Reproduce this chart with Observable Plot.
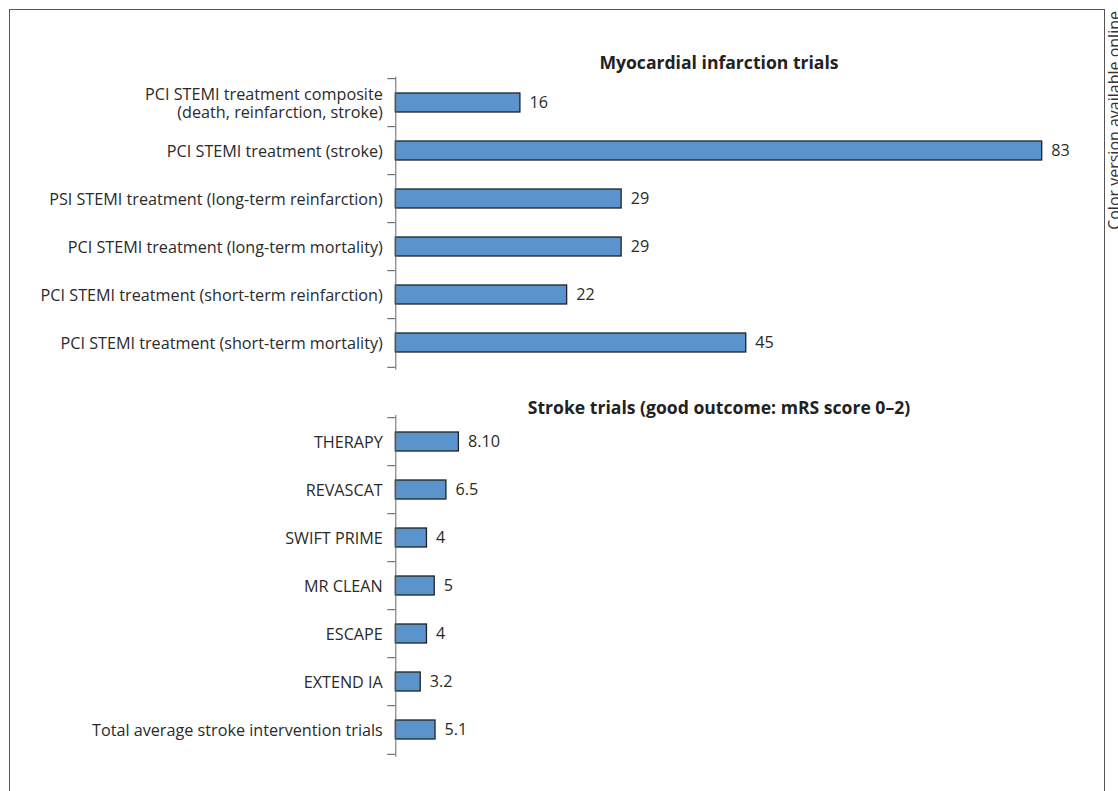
<!DOCTYPE html>
<html>
<head>
<meta charset="utf-8">
<script src="https://cdn.jsdelivr.net/npm/d3@7"></script>
<script src="https://cdn.jsdelivr.net/npm/@observablehq/plot@0.6"></script>
<style>
  body { margin: 0; background: #fff; }
  #page { position: relative; width: 1118px; height: 791px; overflow: hidden; font-family: "Open Sans", sans-serif; color: #222; }
  #border { position: absolute; left: 9px; top: 9px; width: 1096px; height: 820px; border: 1px solid #555; border-bottom: none; box-sizing: border-box; }
  .panel { position: absolute; left: 0; }
  #note { position: absolute; left: 1106px; top: 11px; font-size: 16px; line-height: 1; color: #333; white-space: nowrap;
          transform-origin: 0 0; transform: rotate(-90deg) translateX(-100%); }
</style>
</head>
<body>
<div id="page">
  <div id="border"></div>
  <div id="mi" class="panel" style="top:0"></div>
  <div id="stroke" class="panel" style="top:380px"></div>
  <div id="note">Color version available online</div>
</div>
<script>
// Myocardial infarction trials
const miTrials = [
  "PCI STEMI treatment composite\n(death, reinfarction, stroke)",
  "PCI STEMI treatment (stroke)",
  "PSI STEMI treatment (long-term reinfarction)",
  "PCI STEMI treatment (long-term mortality)",
  "PCI STEMI treatment (short-term reinfarction)",
  "PCI STEMI treatment (short-term mortality)"
];
const miValues = [16, 83, 29, 29, 22, 45];
const miLabels = ["16", "83", "29", "29", "22", "45"];

// Stroke trials (good outcome: mRS score 0–2)
const strokeTrials = [
  "THERAPY",
  "REVASCAT",
  "SWIFT PRIME",
  "MR CLEAN",
  "ESCAPE",
  "EXTEND IA",
  "Total average stroke intervention trials"
];
const strokeValues = [8.10, 6.5, 4, 5, 4, 3.2, 5.1];
const strokeLabels = ["8.10", "6.5", "4", "5", "4", "3.2", "5.1"];

const panelTitles = ["Myocardial infarction trials", "Stroke trials (good outcome: mRS score 0\u20132)"];

// both panels share one x scale
const xDomain = [0, d3.max(miValues)];
const step = 48.65;

function panel(names, values, labels, title, marginTop, titleDy) {
  const rows = names.map((name, i) => ({name, value: values[i], label: labels[i]}));
  const n = names.length;
  const marginBottom = 6;
  return Plot.plot({
    width: 1118,
    height: marginTop + n * step + marginBottom,
    marginLeft: 395.3,
    marginRight: 76.3,
    marginTop,
    marginBottom,
    style: {fontFamily: "'Open Sans', sans-serif", fontSize: "16.2px", color: "#222", background: "transparent", overflow: "visible"},
    x: {domain: xDomain, axis: null},
    y: {domain: names, paddingInner: 0.6, paddingOuter: 0.3, axis: null},
    marks: [
      Plot.barX(rows, {x: "value", y: "name", fill: "#5b93cc", stroke: "#222", strokeWidth: 1.3}),
      Plot.text(rows, {x: "value", y: "name", text: "label", textAnchor: "start", dx: 9, fill: "#2a2a2a"}),
      // category labels, centred on each band
      Plot.axisY({tickSize: 0, tickPadding: 13, lineHeight: 1.12, fill: "#2a2a2a", label: null}),
      // ticks on the band boundaries
      Plot.axisY({tickSize: 8, tickFormat: () => "", dy: -step / 2, stroke: "#555", label: null}),
      Plot.axisY([names[n - 1]], {tickSize: 8, tickFormat: () => "", dy: step / 2, stroke: "#555", label: null}),
      Plot.frame({anchor: "left", stroke: "#666"}),
      Plot.text([title], {frameAnchor: "top", lineAnchor: "bottom", dy: titleDy, fontWeight: "bold", fontSize: 17.6, fill: "#222"})
    ]
  });
}

document.getElementById("mi").append(panel(miTrials, miValues, miLabels, panelTitles[0], 76.7, -8));
document.getElementById("stroke").append(panel(strokeTrials, strokeValues, strokeLabels, panelTitles[1], 35, -1));
</script>
</body>
</html>
